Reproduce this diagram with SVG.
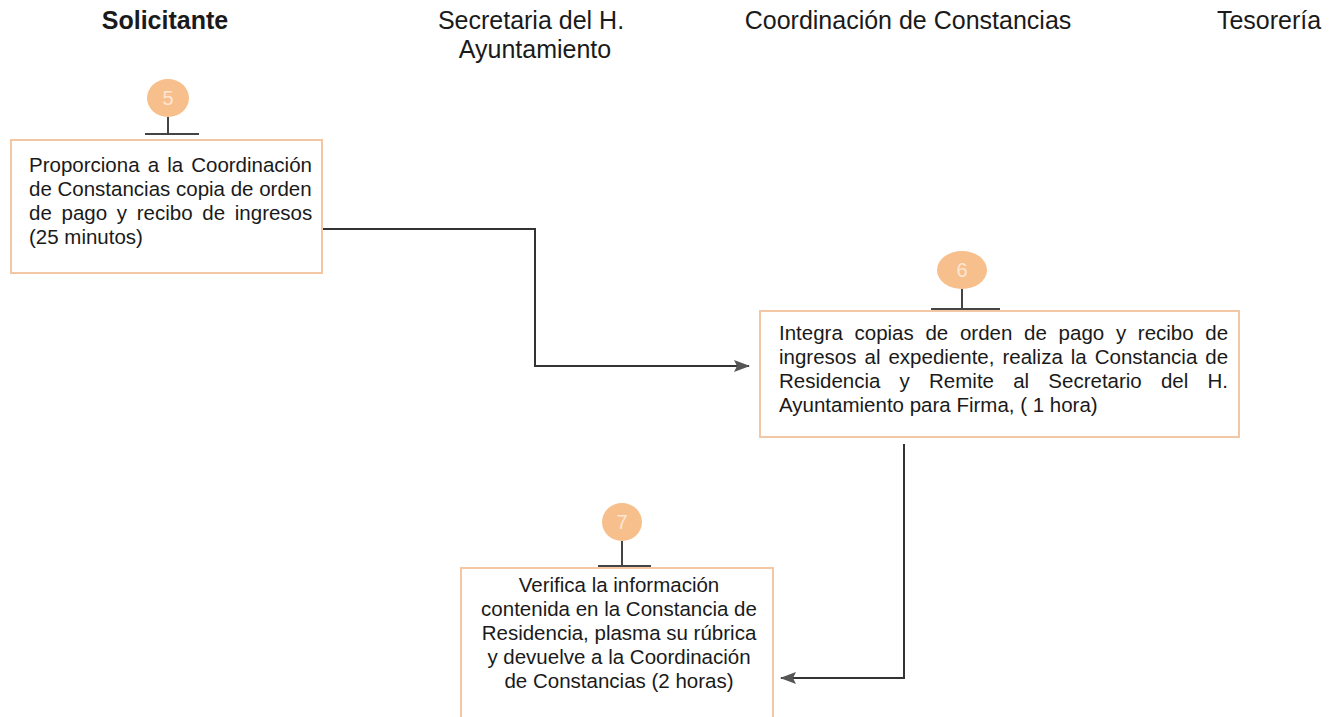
<svg xmlns="http://www.w3.org/2000/svg" width="1338" height="717" viewBox="0 0 1338 717">
<style>
.hdr{font-family:"Liberation Sans",Arial,sans-serif;font-size:25px;fill:#1a1a1a;text-anchor:middle}
.bx{fill:#fff;stroke:#f3c7a3;stroke-width:2}
.tx{font-family:"Liberation Sans",Arial,sans-serif;font-size:20.5px;fill:#1a1a1a}
.num{fill:#f7bf8c}
.numt{font-family:"Liberation Sans",Arial,sans-serif;font-size:20px;fill:#fde6d2;text-anchor:middle}
.tee{stroke:#444;stroke-width:2;fill:none}
.con{stroke:#333;stroke-width:2;fill:none}
</style>
<defs>
<marker id="ah" viewBox="0 0 16 12" refX="15" refY="6" markerWidth="16" markerHeight="12" markerUnits="userSpaceOnUse" orient="auto">
<path d="M0,0 L16,6 L0,12 L3,6 z" fill="#555"/>
</marker>
</defs>
<rect width="1338" height="717" fill="#fff"/>
<g id="headers">
<text class="hdr" x="165" y="29" font-weight="bold" font-size="23">Solicitante</text>
<text class="hdr" x="531" y="29">Secretaria del H.</text>
<text class="hdr" x="535" y="58">Ayuntamiento</text>
<text class="hdr" x="908" y="29" font-size="25.5">Coordinación de Constancias</text>
<text class="hdr" x="1269" y="29" font-size="22">Tesorería</text>
</g>
<g id="connectors">
<path class="con" d="M322,229 H535 V366 H749" marker-end="url(#ah)"/>
<path class="con" d="M904,444 V678 H781" marker-end="url(#ah)"/>
</g>
<g id="node5">
<ellipse class="num" cx="168" cy="98" rx="21" ry="19"/>
<text class="numt" x="168" y="105">5</text>
<path class="tee" d="M168,117 V134 M145,134 H199"/>
<rect class="bx" x="11" y="140" width="311" height="133"/>
<text class="tx" x="29" y="172" word-spacing="2.4">Proporciona a la Coordinación</text>
<text class="tx" x="29" y="196">de Constancias copia de orden</text>
<text class="tx" x="29" y="220" word-spacing="4">de pago y recibo de ingresos</text>
<text class="tx" x="29" y="244">(25 minutos)</text>
</g>
<g id="node6">
<ellipse class="num" cx="962" cy="270" rx="25" ry="19"/>
<text class="numt" x="962" y="277">6</text>
<path class="tee" d="M962,289 V309 M931,309 H1000"/>
<rect class="bx" x="760" y="311" width="479" height="126"/>
<text class="tx" x="779" y="340" word-spacing="6">Integra copias de orden de pago y recibo de</text>
<text class="tx" x="779" y="364" word-spacing="2.3">ingresos al expediente, realiza la Constancia de</text>
<text class="tx" x="779" y="388" word-spacing="13.5">Residencia y Remite al Secretario del H.</text>
<text class="tx" x="779" y="412">Ayuntamiento para Firma, ( 1 hora)</text>
</g>
<g id="node7">
<ellipse class="num" cx="622" cy="522" rx="20" ry="19"/>
<text class="numt" x="622" y="529">7</text>
<path class="tee" d="M622,541 V566 M598,566 H651"/>
<rect class="bx" x="461" y="568" width="312" height="150"/>
<text class="tx" x="619" y="592" text-anchor="middle">Verifica la información</text>
<text class="tx" x="619" y="616" text-anchor="middle">contenida en la Constancia de</text>
<text class="tx" x="619" y="640" text-anchor="middle">Residencia, plasma su rúbrica</text>
<text class="tx" x="619" y="664" text-anchor="middle">y devuelve a la Coordinación</text>
<text class="tx" x="619" y="688" text-anchor="middle">de Constancias (2 horas)</text>
</g>
</svg>
